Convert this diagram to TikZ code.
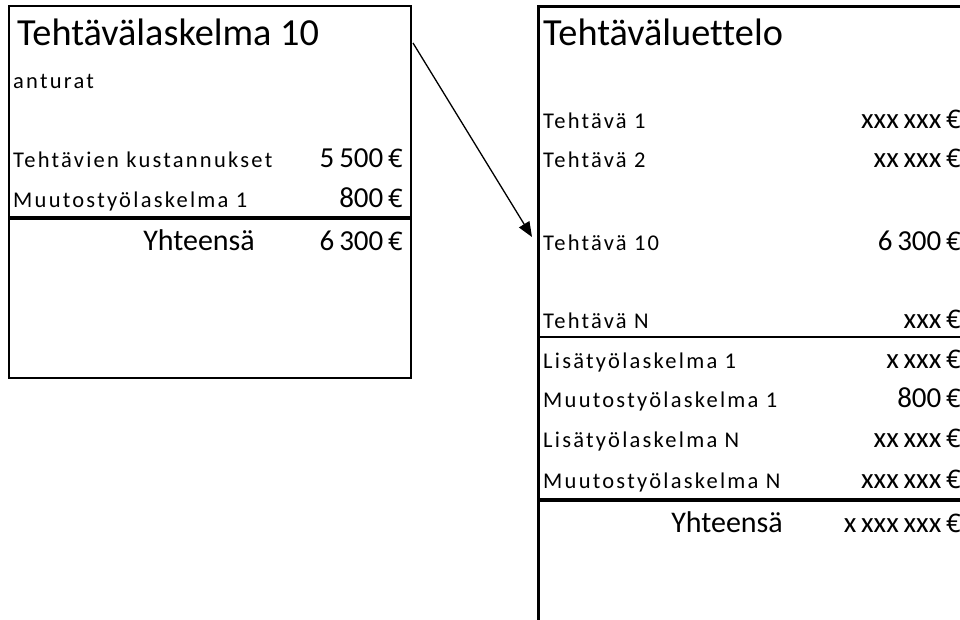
\documentclass[tikz,border=0pt]{standalone}
\usepackage{fontspec}
\setmainfont{Carlito}[Ligatures=NoCommon]
\newfontfamily\rowfont[LetterSpace=10,Ligatures=NoCommon]{Carlito}
\newfontfamily\eurofont[Scale=0.88]{Noto Sans}
\newcommand\eur{{\eurofont €}}
\usetikzlibrary{arrows.meta}
\tikzset{
  box/.style = {draw, line width=2pt, anchor=north west, inner sep=0pt},
  heading/.style = {anchor=base west, inner sep=0pt, font=\fontsize{38.3}{44}\selectfont},
  row/.style = {anchor=base west, inner sep=0pt, font=\rowfont\fontsize{22.5}{27}\selectfont},
  amount/.style = {anchor=base east, inner sep=0pt, font=\fontsize{29}{34}\selectfont},
  total/.style = {anchor=base east, inner sep=0pt, font=\fontsize{30}{34}\selectfont}
}

\begin{document}
\begin{tikzpicture}[x=1pt,y=-1pt]

  \useasboundingbox (0,0) rectangle (960,619);
  \clip (0,0) rectangle (960,619);

  % the two sheets
  \node[box, minimum width=402pt, minimum height=372pt] (laskelma) at (8,5) {};
  \node[box, line width=3pt, minimum width=500pt, minimum height=700pt] (luettelo) at (537,5) {};

  % left sheet
  \node[heading] (laskelma title) at (17,45) {Tehtävälaskelma 10};
  \node[row] (kohde) at (13,88) {anturat};
  \node[row] (kust) at (13,167) {Tehtävien kustannukset};
  \node[amount] (kust sum) at (403,167) {5\,500\,\eur};
  \node[row] (muutos1) at (13,207) {Muutostyölaskelma 1};
  \node[amount] (muutos1 sum) at (403,207) {800\,\eur};
  \draw[line width=4pt] (8,217.5) -- (410,217.5);
  \node[total] (yht) at (255,250) {Yhteensä};
  \node[amount] (yht sum) at (403,250) {6\,300\,\eur};

  % right sheet
  \node[heading] (luettelo title) at (543,45) {Tehtäväluettelo};
  \node[row] (t1) at (543,128) {Tehtävä 1};
  \node[amount] (t1 sum) at (961,128) {xxx\,xxx\,\eur};
  \node[row] (t2) at (543,167) {Tehtävä 2};
  \node[amount] (t2 sum) at (961,167) {xx\,xxx\,\eur};
  \node[row] (t10) at (543,250) {Tehtävä 10};
  \node[amount] (t10 sum) at (961,250) {6\,300\,\eur};
  \node[row] (tN) at (543,328) {Tehtävä N};
  \node[amount] (tN sum) at (961,328) {xxx\,\eur};
  \draw[line width=2pt] (537,337) -- (960,337);
  \node[row] (l1) at (543,368) {Lisätyölaskelma 1};
  \node[amount] (l1 sum) at (961,368) {x\,xxx\,\eur};
  \node[row] (m1) at (543,407) {Muutostyölaskelma 1};
  \node[amount] (m1 sum) at (961,407) {800\,\eur};
  \node[row] (lN) at (543,447) {Lisätyölaskelma N};
  \node[amount] (lN sum) at (961,447) {xx\,xxx\,\eur};
  \node[row] (mN) at (543,488) {Muutostyölaskelma N};
  \node[amount] (mN sum) at (961,488) {xxx\,xxx\,\eur};
  \draw[line width=4pt] (537,499.5) -- (960,499.5);
  \node[total] (kaikki) at (783,532) {Yhteensä};
  \node[amount] (kaikki sum) at (961,532) {x\,xxx\,xxx\,\eur};

  % link
  \coordinate (from) at (413,43);
  \coordinate (to) at (532,237);
  \draw[-{Triangle[length=15pt,width=12pt]}, line width=1.3pt] (from) -- (to);

\end{tikzpicture}
\end{document}
